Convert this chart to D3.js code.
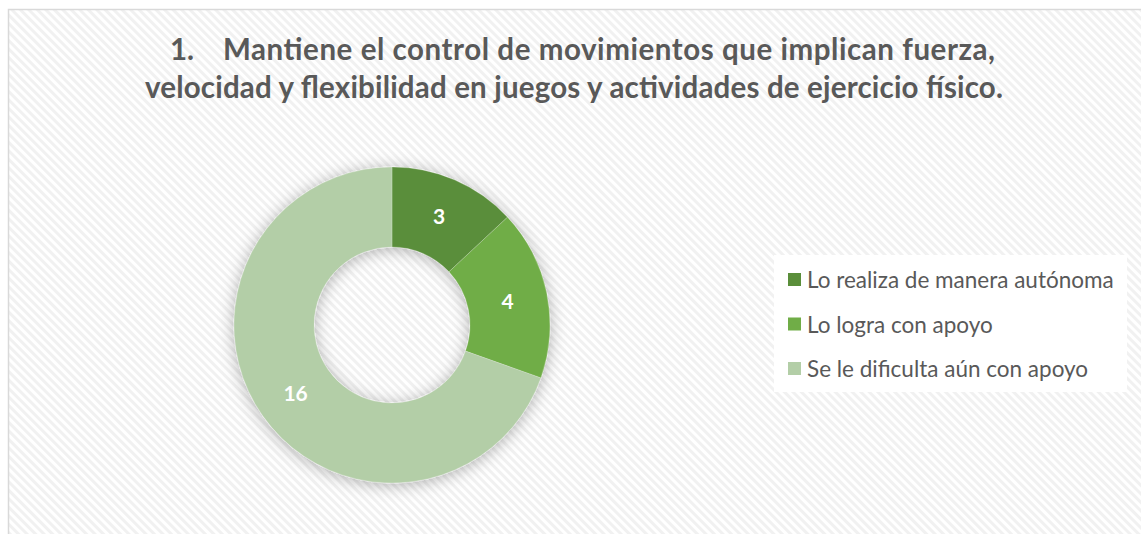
<!DOCTYPE html>
<html lang="es">
<head>
<meta charset="UTF-8">
<title>Donut</title>
<script src="https://d3js.org/d3.v7.min.js"></script>
<style>
  body { margin: 0; background: #fff; }
  text { font-family: Lato, "Open Sans", sans-serif; }
</style>
</head>
<body>
<script>
// Data
const categories = ["Lo realiza de manera autónoma", "Lo logra con apoyo", "Se le dificulta aún con apoyo"];
const values = [3, 4, 16];
const colors = ["#5a8e3a", "#70ad47", "#b3cea7"];
const titleNum = "1.";
const titleLines = ["Mantiene el control de movimientos que implican fuerza,",
                    "velocidad y flexibilidad en juegos y actividades de ejercicio físico."];

const width = 1141, height = 534;
const svg = d3.select("body").append("svg")
    .attr("width", width)
    .attr("height", height);

const defs = svg.append("defs");

// diagonal hatch background
const pat = defs.append("pattern")
    .attr("id", "hatch")
    .attr("width", 6).attr("height", 6)
    .attr("patternUnits", "userSpaceOnUse")
    .attr("patternTransform", "rotate(-45)");
pat.append("rect").attr("width", 6).attr("height", 6).attr("fill", "#ffffff");
pat.append("rect").attr("width", 3).attr("height", 6).attr("fill", "#f1f1f1");

// soft shadow
const f = defs.append("filter").attr("id", "shadow")
    .attr("x", "-30%").attr("y", "-30%").attr("width", "160%").attr("height", "160%");
f.append("feDropShadow")
    .attr("dx", 0).attr("dy", 2)
    .attr("stdDeviation", 8)
    .attr("flood-color", "#000")
    .attr("flood-opacity", 0.3);

// chart area
svg.append("rect")
    .attr("x", 8.5).attr("y", 9.5)
    .attr("width", 1300).attr("height", 700)
    .attr("fill", "url(#hatch)")
    .attr("stroke", "#d9d9d9")
    .attr("stroke-width", 1.5);

// title
const tg = svg.append("g")
    .attr("font-size", 29.5)
    .attr("font-weight", "bold")
    .attr("fill", "#595959");
tg.append("text")
    .attr("x", 170).attr("y", 60)
    .text(titleNum);
tg.append("text")
    .attr("x", 223).attr("y", 60)
    .attr("textLength", 772)
    .text(titleLines[0]);
tg.append("text")
    .attr("x", 145).attr("y", 98)
    .attr("textLength", 858)
    .text(titleLines[1]);

// donut
const cx = 392, cy = 325, rOuter = 158, rInner = 78;
const pie = d3.pie().sort(null).value(d => d);
const arc = d3.arc().innerRadius(rInner).outerRadius(rOuter);
const labelArc = d3.arc().innerRadius((rInner + rOuter) / 2).outerRadius((rInner + rOuter) / 2);

const g = svg.append("g").attr("transform", `translate(${cx},${cy})`);
const arcs = pie(values);

g.append("g").attr("filter", "url(#shadow)")
  .selectAll("path")
  .data(arcs)
  .join("path")
    .attr("d", arc)
    .attr("fill", (d, i) => colors[i])
    .attr("stroke", "rgba(255,255,255,0.35)")
    .attr("stroke-width", 0.6);

g.selectAll("text.lbl")
  .data(arcs)
  .join("text")
    .attr("class", "lbl")
    .attr("transform", d => `translate(${labelArc.centroid(d)})`)
    .attr("text-anchor", "middle")
    .attr("dy", "0.36em")
    .attr("font-size", 21)
    .attr("font-weight", "bold")
    .attr("fill", "#ffffff")
    .text(d => d.data);

// legend
const lg = svg.append("g");
lg.append("rect")
    .attr("x", 774).attr("y", 255)
    .attr("width", 353).attr("height", 137)
    .attr("fill", "#ffffff");

const item = lg.selectAll("g.item")
  .data(categories)
  .join("g")
    .attr("class", "item")
    .attr("transform", (d, i) => `translate(788, ${280 + i * 44.5})`);

item.append("rect")
    .attr("x", 0).attr("y", -7)
    .attr("width", 13).attr("height", 13)
    .attr("fill", (d, i) => colors[i]);

item.append("text")
    .attr("x", 19)
    .attr("y", 0)
    .attr("dy", "0.36em")
    .attr("font-size", 22.5)
    .attr("fill", "#595959")
    .text(d => d);
</script>
</body>
</html>
